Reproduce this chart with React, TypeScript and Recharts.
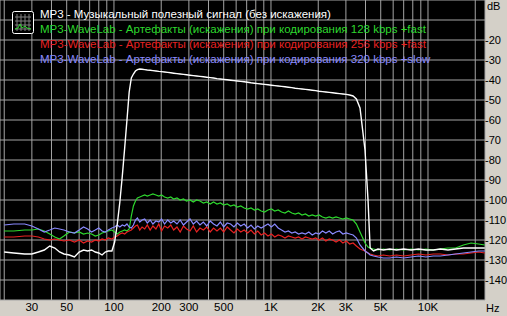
import React from 'react'
import { LineChart, Line, XAxis, YAxis, CartesianGrid } from 'recharts'

// frequencies (Hz) of the sampled points
const freqs = [
  20, 23, 27, 30, 33, 36, 39, 42, 45, 48,
  52, 56, 60, 64, 68, 72, 76, 80, 84, 88,
  92, 97, 101, 105, 109, 113, 117, 121, 125, 129,
  133, 137, 141, 146, 151, 157, 163, 170, 177, 185,
  193, 201, 210, 220, 230, 240, 252, 264, 277, 290,
  305, 320, 336, 353, 371, 390, 410, 431, 453, 476,
  500, 526, 553, 581, 611, 642, 675, 710, 746, 784,
  824, 866, 910, 957, 1006, 1057, 1111, 1168, 1228, 1291,
  1357, 1426, 1499, 1576, 1657, 1742, 1831, 1925, 2023, 2127,
  2236, 2350, 2470, 2597, 2730, 2870, 3017, 3171, 3333, 3500,
  3690, 3970, 4150, 4280, 4500, 4800, 5200, 5700, 6300, 7000,
  7800, 8700, 9700, 10800, 12000, 13400, 15000, 16800, 18800, 21000,
  23000,
]

// useful signal (white)
const signal = [
  -126, -126.5, -127, -127, -126, -125, -123, -124, -126, -127,
  -127.5, -128.5, -126, -125, -125.5, -125, -126, -126.5, -127.5, -126,
  -125.5, -125.5, -121, -112, -101, -88, -74, -60, -46, -39,
  -37, -35.5, -34.8, -34.5, -34.6, -34.8, -35.0, -35.1, -35.3, -35.5,
  -35.7, -35.8, -36.0, -36.2, -36.4, -36.6, -36.8, -37.0, -37.2, -37.4,
  -37.6, -37.8, -38.0, -38.2, -38.4, -38.6, -38.8, -39.0, -39.3, -39.5,
  -39.7, -39.9, -40.1, -40.3, -40.5, -40.7, -40.9, -41.1, -41.4, -41.6,
  -41.8, -42.0, -42.2, -42.4, -42.6, -42.8, -43.0, -43.2, -43.4, -43.6,
  -43.8, -44.1, -44.3, -44.5, -44.7, -44.9, -45.1, -45.3, -45.6, -45.8,
  -46.0, -46.2, -46.4, -46.6, -46.8, -47.0, -47.2, -47.5, -48.0, -49.5,
  -54, -75, -100, -124, -125.5, -124.5, -125, -124.5, -125, -124.5,
  -125, -124.5, -125, -125, -124.5, -125, -124.5, -124, -124, -124,
  -124,
]

// 128 kbps +fast artefacts (green)
const wl128 = [
  -115.5, -115.5, -115, -115, -114.5, -115.5, -117, -118.5, -119.5, -118,
  -116, -116.5, -116, -117, -116.5, -117, -118, -117.5, -116.5, -116,
  -115.5, -115, -116, -117, -116, -115.5, -115, -115.5, -114.5, -108,
  -103, -100.5, -99, -98.5, -98, -97.5, -98, -97.5, -97, -97.5,
  -98, -97.5, -98.5, -99, -98.5, -99.5, -99, -100, -99.5, -100.5,
  -100, -101, -100, -100.5, -101.5, -101, -102, -101, -102, -101.5,
  -102.5, -102, -103, -102.5, -103.5, -103, -104, -104.5, -104, -105,
  -104.5, -105.5, -106, -105, -104.5, -105.5, -105, -106, -106.5, -105.5,
  -106.5, -107, -106.5, -107.5, -107, -108, -107.5, -108, -107.5, -108.5,
  -109, -108.5, -109, -108.5, -109, -109.5, -109, -109.5, -110, -112,
  -116, -121.5, -123.5, -124, -124.5, -125, -124.5, -125, -124.5, -125,
  -124.5, -125, -124.5, -125, -124.5, -124, -124, -122.5, -121.5, -122,
  -122.5,
]

// 256 kbps +fast artefacts (red)
const wl256 = [
  -118.5, -118.5, -118, -118, -118.5, -119.5, -120, -119.5, -120, -120.5,
  -120, -121, -120, -121.5, -120.5, -121, -120, -120.5, -119.5, -120,
  -119, -119.5, -118.5, -118, -117, -116.5, -117, -116, -115.5, -115,
  -114, -113, -112.5, -115, -113.5, -114.5, -112.5, -115, -113, -114.5,
  -112, -115.5, -113, -114, -112.5, -115, -113.5, -116, -113, -114.5,
  -115.5, -113, -116, -114, -115, -113.5, -116, -114, -115.5, -114,
  -116, -113.5, -115, -116.5, -114.5, -116, -115, -116.5, -115, -117,
  -115.5, -117.5, -116.5, -118, -117, -118.5, -117.5, -118, -119, -118,
  -118.5, -119, -118.5, -119.5, -118.5, -119, -119.5, -119, -120, -119,
  -120.5, -119.5, -120, -121, -120, -121.5, -120.5, -122, -121.5, -123,
  -124.5, -125.5, -126.5, -127, -127.5, -128, -127.5, -128, -127.5, -128,
  -127.5, -127, -127.5, -127, -127, -127.5, -127, -127, -126.5, -126,
  -126.5,
]

// 320 kbps +slow artefacts (blue)
const wl320 = [
  -112.5, -112, -112, -113, -114.5, -116, -115, -114, -114.5, -115,
  -116, -116.5, -115, -113.5, -114.5, -116, -115, -114, -115.5, -116,
  -115, -114, -113.5, -112.5, -113.5, -112.5, -113, -112, -113.5, -114,
  -112.5, -110, -109, -111, -110, -109.5, -111.5, -110, -112, -110.5,
  -111, -109.5, -112, -110, -111.5, -110.5, -112, -110, -112.5, -111,
  -109.5, -112, -110.5, -112.5, -111, -113, -110.5, -112, -113, -111,
  -113.5, -111.5, -112, -113.5, -111.5, -113, -112, -114, -112.5, -114.5,
  -113, -114, -113, -112, -113.5, -112, -114, -115, -116, -115.5,
  -116.5, -116, -117, -116.5, -117, -116, -117.5, -116.5, -117, -115.5,
  -116.5, -115.5, -117, -116, -115.5, -117, -116.5, -117, -117.5, -119,
  -122.5, -125.5, -126.5, -127.5, -128, -128.5, -129, -129, -128.5, -129,
  -128.5, -128, -128.5, -128, -128, -127.5, -127, -126.5, -126, -125.5,
  -125.5,
]

const gridFreqs = [
  20, 30, 40, 50, 60, 70, 80, 90,
  100, 200, 300, 400, 500, 600, 700, 800, 900,
  1000, 2000, 3000, 4000, 5000, 6000, 7000, 8000, 9000,
  10000, 20000,
]
const freqLabels: Record<number, string> = {
  30: '30', 50: '50', 100: '100', 200: '200', 300: '300', 500: '500',
  1000: '1K', 2000: '2K', 3000: '3K', 5000: '5K', 10000: '10K',
}
const dbTicks = [-140, -130, -120, -110, -100, -90, -80, -70, -60, -50, -40, -30, -20, -10]

const series = [
  { key: 'signal', name: 'MP3 - Музыкальный полезный сигнал (без искажения)', color: '#ffffff' },
  { key: 'wl128', name: 'MP3-WaveLab - Артефакты (искажения) при кодирования 128 kbps +fast', color: '#2ed82e' },
  { key: 'wl256', name: 'MP3-WaveLab - Артефакты (искажения) при кодирования 256 kbps +fast', color: '#e82222' },
  { key: 'wl320', name: 'MP3-WaveLab - Артефакты (искажения) при кодирования 320 kbps +slow', color: '#8a8aff' },
]

const data = freqs.map((f, i) => ({
  f,
  signal: signal[i],
  wl128: wl128[i],
  wl256: wl256[i],
  wl320: wl320[i],
}))

const FONT = '"Liberation Sans", Arial, sans-serif'
const PANEL = '#d4d0c8'

function LegendIcon() {
  return (
    <svg width={22} height={23} style={{ position: 'absolute', left: 12, top: 11 }}>
      <rect x={0.5} y={0.5} width={21} height={22} rx={2} fill="#000" stroke="#fff" />
      {[5, 9, 13, 17].map((x) => (
        <line key={'v' + x} x1={x} y1={3} x2={x} y2={20} stroke="#808080" />
      ))}
      {[6, 10, 14, 18].map((y) => (
        <line key={'h' + y} x1={3} y1={y} x2={19} y2={y} stroke="#808080" />
      ))}
      <polyline points="3,18 6,17 8,13 10,17 13,15 15,17 19,18" fill="none" stroke="#2ed82e" />
    </svg>
  )
}

export default function App() {
  return (
    <div style={{ position: 'absolute', left: 0, top: 0, width: 507, height: 316, background: PANEL, fontFamily: FONT }}>
      <LineChart width={507} height={316} data={data} margin={{ top: 0, right: 0, bottom: 0, left: 0 }}>
        <CartesianGrid fill="#000" fillOpacity={1} stroke="#a4a4a4" strokeWidth={1} />
        <XAxis
          dataKey="f"
          type="number"
          scale="log"
          domain={[18.8, 23070]}
          allowDataOverflow
          ticks={gridFreqs}
          interval={0}
          tickFormatter={(v: number) => freqLabels[v] ?? ''}
          tickLine={false}
          axisLine={false}
          tickSize={0}
          tickMargin={3}
          height={16}
          tick={{ fill: '#000', fontSize: 11.5, fontFamily: FONT }}
          label={{ value: 'Hz', position: 'right', offset: 1, fill: '#000', fontSize: 11, fontFamily: FONT }}
        />
        <YAxis
          orientation="right"
          type="number"
          domain={[-150, 0]}
          allowDataOverflow
          ticks={dbTicks}
          interval={0}
          tickFormatter={(v: number) => (v === -10 ? '' : String(v))}
          tickLine={false}
          axisLine={false}
          tickSize={0}
          tickMargin={0}
          width={22}
          tick={{ fill: '#000', fontSize: 11, fontFamily: FONT }}
          label={{ value: 'dB', position: 'insideTopLeft', offset: 2, fill: '#000', fontSize: 11, fontFamily: FONT }}
        />
        {series.slice(1).map((s) => (
          <Line key={s.key} dataKey={s.key} name={s.name} stroke={s.color} strokeWidth={1.2} dot={false} activeDot={false} type="linear" isAnimationActive={false} />
        ))}
        <Line dataKey="signal" name={series[0].name} stroke={series[0].color} strokeWidth={1.4} dot={false} activeDot={false} type="linear" isAnimationActive={false} />
      </LineChart>
      <LegendIcon />
      <div style={{ position: 'absolute', left: 40, top: 7, fontSize: 11.5, lineHeight: '15px', whiteSpace: 'nowrap' }}>
        {series.map((s) => (
          <div key={s.key} style={{ color: s.color }}>{s.name}</div>
        ))}
      </div>
    </div>
  )
}
